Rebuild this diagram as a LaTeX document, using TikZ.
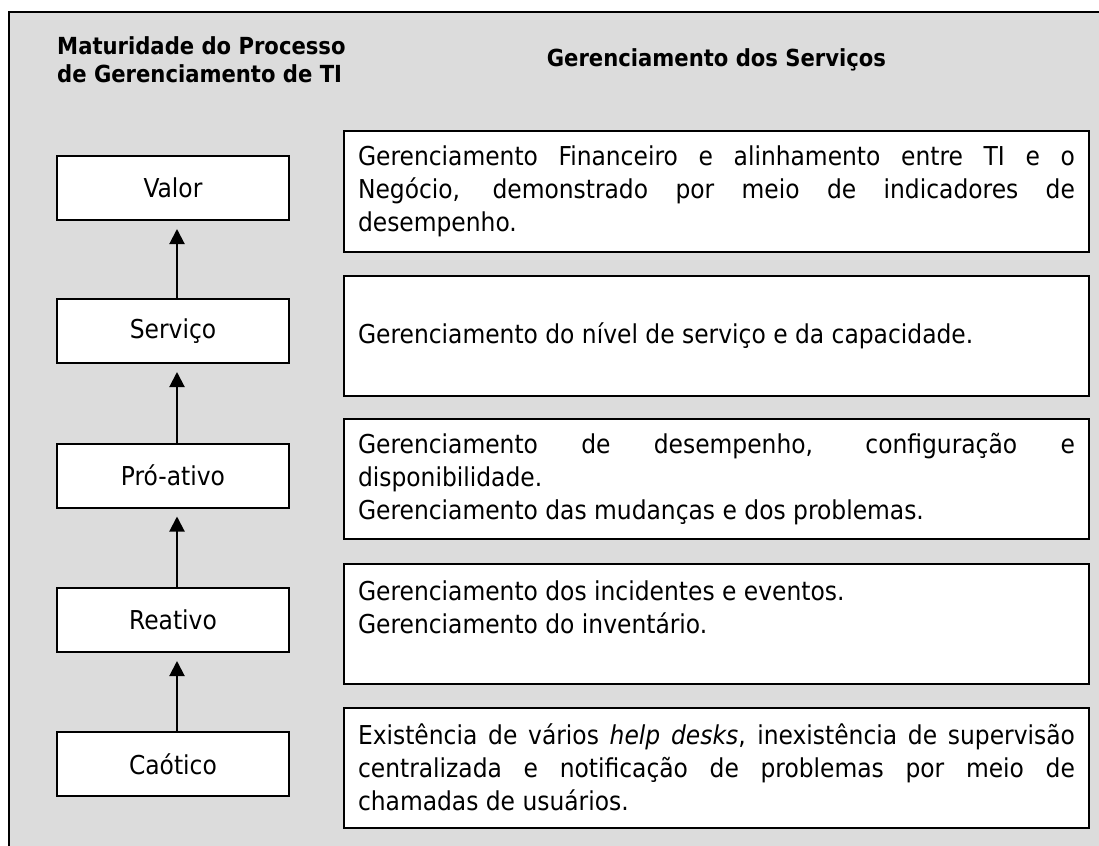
\documentclass[tikz,border=0pt]{standalone}
\usepackage{fontspec}
\setmainfont{DejaVu Sans Condensed}
\usetikzlibrary{arrows.meta}
\definecolor{framegray}{RGB}{220,220,220}
\hyphenpenalty=10000
\exhyphenpenalty=10000

\begin{document}
\begin{tikzpicture}[x=1pt, y=-1pt,
    font=\fontsize{26}{33}\selectfont,
    level/.style={draw, fill=white, line width=2pt, minimum width=232pt, minimum height=64pt, inner sep=0pt},
    service/.style={draw, fill=white, line width=2pt, text width=717pt, inner xsep=14pt, inner ysep=0pt, minimum height=120pt, align=justify},
    heading/.style={inner sep=0pt, font=\bfseries\fontsize{23.5}{28}\selectfont},
    up/.style={line width=2pt, -{Triangle[length=15pt, width=15pt]}, shorten >=8pt}]
    \clip (0,0) rectangle (1099,845);
    % frame
    \fill[framegray] (9,12) rectangle (1120,870);
    \draw[line width=2pt] (9,870) -- (9,12) -- (1120,12);
    % headings
    \node[heading, anchor=west, align=left] (maturity) at (57,60) {Maturidade do Processo\\de Gerenciamento de TI};
    \node[heading] (services) at (716.5,60) {Gerenciamento dos Serviços};
    % maturity levels
    \node[level] (valor) at (173,188) {Valor};
    \node[level] (servico) at (173,331) {Serviço};
    \node[level] (proativo) at (173,475.5) {Pró-ativo};
    \node[level] (reativo) at (173,620) {Reativo};
    \node[level] (caotico) at (173,764) {Caótico};
    \draw[up] ([xshift=4pt]servico.north) -- ([xshift=4pt]valor.south);
    \draw[up] ([xshift=4pt]proativo.north) -- ([xshift=4pt]servico.south);
    \draw[up] ([xshift=4pt]reativo.north) -- ([xshift=4pt]proativo.south);
    \draw[up] ([xshift=4pt]caotico.north) -- ([xshift=4pt]reativo.south);
    % services
    \node[service] (financeiro) at (716.5,191.5) {Gerenciamento Financeiro e alinhamento entre TI e o\linebreak Negócio, demonstrado por meio de indicadores de\linebreak desempenho.};
    \node[service] (nivel) at (716.5,336) {Gerenciamento do nível de serviço e da capacidade.};
    \node[service] (desempenho) at (716.5,479) {Gerenciamento de desempenho, configuração e\linebreak disponibilidade.\\Gerenciamento das mudanças e dos problemas.};
    \node[service] (incidentes) at (716.5,624) {Gerenciamento dos incidentes e eventos.\\Gerenciamento do inventário.\\\mbox{}};
    \node[service] (helpdesk) at (716.5,767.5) {Existência de vários \textit{help desks}, inexistência de supervisão\linebreak centralizada e notificação de problemas por meio de\linebreak chamadas de usuários.};
\end{tikzpicture}
\end{document}
